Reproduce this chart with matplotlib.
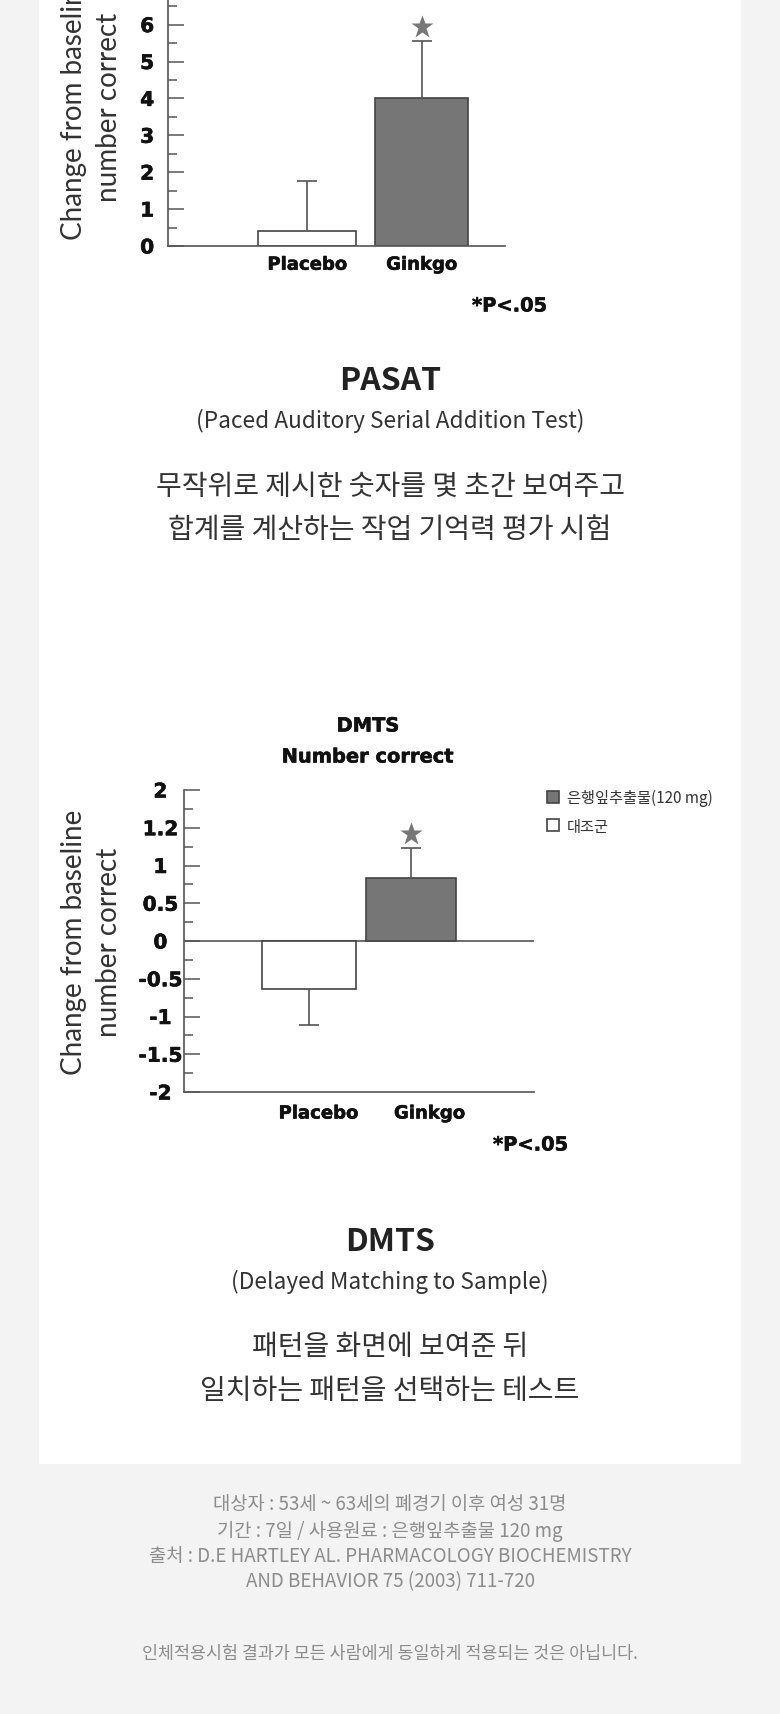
import matplotlib
matplotlib.use('Agg')
import matplotlib.pyplot as plt
import matplotlib.patheffects as pe
import numpy as np
from matplotlib.patches import Rectangle
from matplotlib.ticker import FixedLocator, MultipleLocator
from matplotlib.font_manager import FontProperties

# ---------------- data ----------------
categories = ['Placebo', 'Ginkgo']

pasat_values = [0.4, 4.0]
pasat_errors = [1.36, 1.55]
pasat_star = 5.93
pasat_yticks = [0, 1, 2, 3, 4, 5, 6]
pasat_yticklabels = ['0', '1', '2', '3', '4', '5', '6']

dmts_values = [-0.64, 0.83]
dmts_errors = [0.47, 0.40]
dmts_star = 1.42
dmts_yticks = [2, 1.5, 1, 0.5, 0, -0.5, -1, -1.5, -2]
dmts_yticklabels = ['2', '1.2', '1', '0.5', '0', '-0.5', '-1', '-1.5', '-2']

legend_labels = ['은행잎추출물(120 mg)', '대조군']
ylabel_lines = ['Change from baseline', 'number correct']
sig_text = '*P<.05'

pasat_heading = 'PASAT'
pasat_sub = '(Paced Auditory Serial Addition Test)'
pasat_desc = ['무작위로 제시한 숫자를 몇 초간 보여주고', '합계를 계산하는 작업 기억력 평가 시험']
dmts_chart_title = ['DMTS', 'Number correct']
dmts_heading = 'DMTS'
dmts_sub = '(Delayed Matching to Sample)'
dmts_desc = ['패턴을 화면에 보여준 뒤', '일치하는 패턴을 선택하는 테스트']
footer_lines = ['대상자 : 53세 ~ 63세의 폐경기 이후 여성 31명',
                '기간 : 7일 / 사용원료 : 은행잎추출물 120 mg',
                '출처 : D.E HARTLEY AL. PHARMACOLOGY BIOCHEMISTRY',
                'AND BEHAVIOR 75 (2003) 711-720']
disclaimer = '인체적용시험 결과가 모든 사람에게 동일하게 적용되는 것은 아닙니다.'

# ---------------- style ----------------
W, H = 780, 1715
CJK = 'Noto Sans CJK KR'
BOLD = ['DejaVu Sans']
REG = ['Lato', 'DejaVu Sans']
plt.rcParams['font.family'] = ['DejaVu Sans', CJK]

bar_colors = ['white', '#767676']
edge = '#444444'
axis_col = '#555555'
ink = '#111111'
heavy = [pe.withStroke(linewidth=0.4, foreground=ink)]

def fx(x):
    return x / W

def fy(y):
    return 1 - y / H

fig = plt.figure(figsize=(W / 100, H / 100), dpi=100)
fig.patch.set_facecolor('#f3f3f3')
fig.add_artist(Rectangle((fx(39), fy(1465)), fx(741) - fx(39), fy(-10) - fy(1465),
                         transform=fig.transFigure, facecolor='white', edgecolor='none', zorder=0))


def draw_errors(ax, x, values, errors):
    for xi, v, e in zip(x, values, errors):
        end = v + e if v >= 0 else v - e
        ax.vlines(xi, v, end, color=axis_col, lw=1.2, zorder=3)
        ax.plot([xi], [end], marker='_', ms=14.5, mew=1.2, color=axis_col, zorder=3)


def style_axes(ax, pad):
    for s in ['top', 'right']:
        ax.spines[s].set_visible(False)
    for s in ['left', 'bottom']:
        ax.spines[s].set_color(axis_col)
        ax.spines[s].set_linewidth(1.2)
    ax.tick_params(axis='y', which='major', direction='in', length=11.5, width=1.1,
                   color=axis_col, pad=pad)
    ax.tick_params(axis='y', which='minor', direction='in', length=6.5, width=1.1,
                   color=axis_col)
    ax.tick_params(axis='x', length=0)
    ax.patch.set_visible(False)
    for t in ax.get_yticklabels() + ax.get_xticklabels():
        t.set_path_effects(heavy)


tick_font = dict(fontsize=14.5, fontweight='bold', color=ink, family=BOLD)
cat_font = dict(fontsize=13, fontweight='bold', color=ink, family=BOLD)

# ---------------- PASAT chart ----------------
x = np.arange(len(categories))
unit_x = 114.5
left_px, right_px, c0 = 168, 505, 307
y0_px, unit_y = 247, 36.9
ytop = 7.6
ax1 = fig.add_axes([fx(left_px), fy(y0_px), (right_px - left_px) / W,
                    (ytop * unit_y) / H])
ax1.set_xlim((left_px - c0) / unit_x, (right_px - c0) / unit_x)
ax1.set_ylim(0, ytop)
bars1 = ax1.bar(x, pasat_values, width=[0.856, 0.812], color=bar_colors,
                edgecolor=edge, linewidth=1.2, zorder=2)
draw_errors(ax1, x, pasat_values, pasat_errors)
ax1.plot([x[1]], [pasat_star], marker='*', ms=17, color='#777777', mec='none', zorder=4)
ax1.yaxis.set_major_locator(FixedLocator(pasat_yticks))
ax1.set_yticklabels(pasat_yticklabels, ha='center', **tick_font)
ax1.yaxis.set_minor_locator(MultipleLocator(0.5))
ax1.set_xticks(x)
ax1.set_xticklabels(categories, **cat_font)
style_axes(ax1, 15)
ax1.tick_params(axis='x', pad=7)

fig.text(fx(74), fy(107), ylabel_lines[0], rotation=90, ha='center', va='center',
         fontsize=20, color='#333333', family=REG)
fig.text(fx(109), fy(107), ylabel_lines[1], rotation=90, ha='center', va='center',
         fontsize=20, color='#333333', family=REG)
fig.text(fx(472), fy(307), sig_text, ha='left', va='center', fontsize=14,
         fontweight='bold', color=ink, family=BOLD, path_effects=heavy)

# ---------------- PASAT text ----------------
fig.text(fx(390), fy(381), pasat_heading, ha='center', va='center', fontsize=23,
         fontweight='bold', color='#222222', family=CJK)
fig.text(fx(390), fy(421), pasat_sub, ha='center', va='center', fontsize=16.3,
         color='#333333', family=CJK)
fig.text(fx(390), fy(487), pasat_desc[0], ha='center', va='center', fontsize=20.2,
         color='#333333', family=CJK)
fig.text(fx(390), fy(530), pasat_desc[1], ha='center', va='center', fontsize=20.2,
         color='#333333', family=CJK)

# ---------------- DMTS chart ----------------
unit_x2 = 102
left2, right2, c02 = 184, 534, 309
top2, bot2 = 791, 1093
ax2 = fig.add_axes([fx(left2), fy(bot2), (right2 - left2) / W, (bot2 - top2) / H])
ax2.set_xlim((left2 - c02) / unit_x2, (right2 - c02) / unit_x2)
ax2.set_ylim(-2, 2)
bars2 = ax2.bar(x, dmts_values, width=[0.92, 0.88], color=bar_colors,
                edgecolor=edge, linewidth=1.2, zorder=2)
ax2.axhline(0, color=axis_col, lw=1.2, zorder=1)
draw_errors(ax2, x, dmts_values, dmts_errors)
ax2.plot([x[1]], [dmts_star], marker='*', ms=17, color='#777777', mec='none', zorder=4)
ax2.yaxis.set_major_locator(FixedLocator(dmts_yticks))
ax2.set_yticklabels(dmts_yticklabels, ha='center', **tick_font)
ax2.yaxis.set_minor_locator(MultipleLocator(0.25))
ax2.set_xticks(x + np.array([0.09, 0.18]))
ax2.set_xticklabels(categories, **cat_font)
style_axes(ax2, 17)
ax2.tick_params(axis='x', pad=9)

fig.text(fx(368), fy(727), dmts_chart_title[0], ha='center', va='center', fontsize=14,
         fontweight='bold', color=ink, family=BOLD, path_effects=heavy)
fig.text(fx(368), fy(758), dmts_chart_title[1], ha='center', va='center', fontsize=14,
         fontweight='bold', color=ink, family=BOLD, path_effects=heavy)
fig.text(fx(74), fy(942), ylabel_lines[0], rotation=90, ha='center', va='center',
         fontsize=20, color='#333333', family=REG)
fig.text(fx(109), fy(942), ylabel_lines[1], rotation=90, ha='center', va='center',
         fontsize=20, color='#333333', family=REG)
fig.text(fx(493), fy(1146), sig_text, ha='left', va='center', fontsize=14,
         fontweight='bold', color=ink, family=BOLD, path_effects=heavy)

leg = fig.legend([bars2[1], bars2[0]], legend_labels, loc='upper left',
                 bbox_to_anchor=(fx(547), fy(790)), frameon=False,
                 prop=FontProperties(family=CJK, size=11), handlelength=0.8,
                 handleheight=0.85, handletextpad=0.5, labelspacing=0.75,
                 borderpad=0, borderaxespad=0)
for t in leg.get_texts():
    t.set_color('#333333')

# ---------------- DMTS text ----------------
fig.text(fx(390), fy(1242), dmts_heading, ha='center', va='center', fontsize=23,
         fontweight='bold', color='#222222', family=CJK)
fig.text(fx(390), fy(1282), dmts_sub, ha='center', va='center', fontsize=16.3,
         color='#333333', family=CJK)
fig.text(fx(390), fy(1347), dmts_desc[0], ha='center', va='center', fontsize=20.2,
         color='#333333', family=CJK)
fig.text(fx(390), fy(1391), dmts_desc[1], ha='center', va='center', fontsize=20.2,
         color='#333333', family=CJK)

# ---------------- footer ----------------
for yy, line in zip([1505, 1532, 1557, 1582], footer_lines):
    fig.text(fx(390), fy(yy), line, ha='center', va='center', fontsize=13.5,
             color='#8c8c8c', family=CJK)
fig.text(fx(390), fy(1654), disclaimer, ha='center', va='center', fontsize=12.5,
         color='#8c8c8c', family=CJK)

fig.savefig('out.png', dpi=100, facecolor=fig.get_facecolor())
